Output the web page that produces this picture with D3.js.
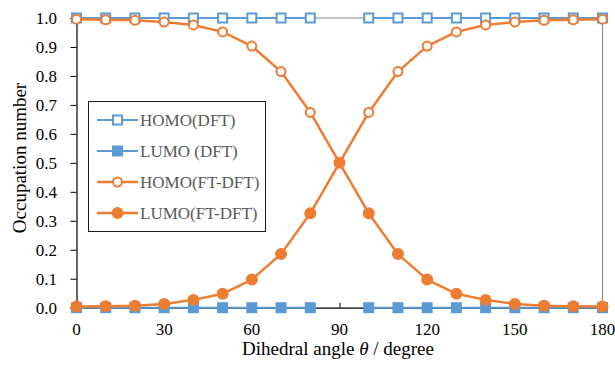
<!DOCTYPE html>
<html>
<head>
<meta charset="utf-8">
<script src="https://cdn.jsdelivr.net/npm/d3@7"></script>
</head>
<body style="margin:0;background:#fff">
<svg id="chart" width="615" height="367"></svg>
<script>
// Dihedral angle (degrees)
const angles = [0, 10, 20, 30, 40, 50, 60, 70, 80, 90, 100, 110, 120, 130, 140, 150, 160, 170, 180];
// Occupation numbers; DFT has no point at 90 degrees
const homoDFT = [1, 1, 1, 1, 1, 1, 1, 1, 1, null, 1, 1, 1, 1, 1, 1, 1, 1, 1];
const lumoDFT = [0, 0, 0, 0, 0, 0, 0, 0, 0, null, 0, 0, 0, 0, 0, 0, 0, 0, 0];
const homoFT = [0.996, 0.994, 0.992, 0.986, 0.976, 0.952, 0.903, 0.815, 0.674, 0.5,
                0.674, 0.815, 0.903, 0.952, 0.976, 0.986, 0.992, 0.994, 0.996];
const lumoFT = [0.004, 0.005, 0.007, 0.013, 0.027, 0.048, 0.097, 0.185, 0.326, 0.5,
                0.326, 0.185, 0.097, 0.048, 0.027, 0.013, 0.007, 0.005, 0.004];
const xTicks = [0, 30, 60, 90, 120, 150, 180];
const yTicks = [0, 0.1, 0.2, 0.3, 0.4, 0.5, 0.6, 0.7, 0.8, 0.9, 1.0];
const seriesNames = ["HOMO(DFT)", "LUMO (DFT)", "HOMO(FT-DFT)", "LUMO(FT-DFT)"];

const BLUE = "#5B9BD5", ORANGE = "#ED7D31";
const series = [
  { name: seriesNames[0], values: homoDFT, color: BLUE, shape: "square", filled: false, width: 2 },
  { name: seriesNames[1], values: lumoDFT, color: BLUE, shape: "square", filled: true, width: 2 },
  { name: seriesNames[2], values: homoFT, color: ORANGE, shape: "circle", filled: false, width: 2.5 },
  { name: seriesNames[3], values: lumoFT, color: ORANGE, shape: "circle", filled: true, width: 2.5 }
];

const svgNode = document.getElementById("chart");
const svg = d3.select(svgNode);
const L = 76.5, R = 602.5, T = 18, B = 307.7;
const x = d3.scaleLinear().domain([0, 180]).range([L, R]);
const y = d3.scaleLinear().domain([0, 1]).range([B, T]);

// serif text element built directly, font set before insertion
function addText(parent, props, content) {
  const t = document.createElementNS("http://www.w3.org/2000/svg", "text");
  t.style.setProperty("font-family", "'Liberation Serif'", "important");
  Object.entries(props).forEach(([k, v]) => t.setAttribute(k, v));
  if (content !== undefined) t.textContent = content;
  parent.appendChild(t);
  return t;
}

// plot-area frame (top and right)
svg.append("path")
  .attr("d", `M${L},${T}H${R}V${B}`)
  .attr("fill", "none").attr("stroke", "#858585").attr("stroke-width", 1);

// y axis: line and ticks from d3, labels placed with the same scale
const yAxis = svg.append("g").attr("transform", `translate(${L},0)`)
  .call(d3.axisLeft(y).tickValues(yTicks).tickSize(6).tickFormat(""));
yAxis.attr("font-family", null);
yAxis.select(".domain").attr("stroke", "#000").attr("stroke-width", 1.2);
yAxis.selectAll(".tick line").attr("stroke", "#000");
yAxis.selectAll("text").remove();
const fmt = d3.format(".1f");
yTicks.forEach(v => addText(svgNode, { x: 57, y: y(v), dy: "0.35em", "text-anchor": "end",
  "font-size": 17, fill: "#000" }, fmt(v)));

// x axis (ticks pointing inward)
const xAxis = svg.append("g").attr("transform", `translate(0,${B})`)
  .call(d3.axisBottom(x).tickValues(xTicks).tickSizeInner(-5).tickSizeOuter(0).tickFormat(""));
xAxis.attr("font-family", null);
xAxis.select(".domain").attr("stroke", "#000").attr("stroke-width", 1.2);
xAxis.selectAll(".tick line").attr("stroke", "#000");
xAxis.selectAll("text").remove();
xTicks.forEach(v => addText(svgNode, { x: x(v), y: B + 27, "text-anchor": "middle",
  "font-size": 17, fill: "#000" }, String(v)));

// axis titles
const xt = addText(svgNode, { x: 338, y: 355, "text-anchor": "middle", "font-size": 19, fill: "#000" });
d3.select(xt).append("tspan").text("Dihedral angle ");
d3.select(xt).append("tspan").attr("font-style", "italic").text("θ");
d3.select(xt).append("tspan").text(" / degree");

addText(svgNode, { transform: "translate(26,158) rotate(-90)", "text-anchor": "middle",
  "font-size": 19, fill: "#000" }, "Occupation number");

function drawMarker(g, s, cx, cy) {
  if (s.shape === "square") {
    g.append("rect").attr("x", cx - 4.5).attr("y", cy - 4.5).attr("width", 9).attr("height", 9)
      .attr("fill", s.filled ? s.color : "#fff").attr("stroke", s.color).attr("stroke-width", 2);
  } else {
    g.append("circle").attr("cx", cx).attr("cy", cy).attr("r", s.filled ? 5 : 4.5)
      .attr("fill", s.filled ? s.color : "#fff").attr("stroke", s.color).attr("stroke-width", 2);
  }
}

// series lines and markers
const line = d3.line()
  .defined(d => d[1] !== null)
  .x(d => x(d[0])).y(d => y(d[1]));

series.forEach(s => {
  const pts = angles.map((a, i) => [a, s.values[i]]);
  const g = svg.append("g");
  g.append("path").datum(pts).attr("d", line)
    .attr("fill", "none").attr("stroke", s.color).attr("stroke-width", s.width)
    .attr("stroke-linejoin", "round");
  pts.filter(p => p[1] !== null).forEach(p => drawMarker(g, s, x(p[0]), y(p[1])));
});

// legend
const lg = svg.append("g");
lg.append("rect").attr("x", 88.5).attr("y", 101.5).attr("width", 177).attr("height", 130)
  .attr("fill", "#fff").attr("stroke", "#1a1a1a").attr("stroke-width", 1);
const rowY = [120, 151, 182, 213];
series.forEach((s, i) => {
  const g = lg.append("g");
  g.append("line").attr("x1", 97).attr("x2", 138).attr("y1", rowY[i]).attr("y2", rowY[i])
    .attr("stroke", s.color).attr("stroke-width", s.width);
  drawMarker(g, s, 117.5, rowY[i]);
  addText(g.node(), { x: 140, y: rowY[i], dy: "0.35em", "font-size": 17, fill: "#595959" }, s.name);
});
</script>
</body>
</html>
